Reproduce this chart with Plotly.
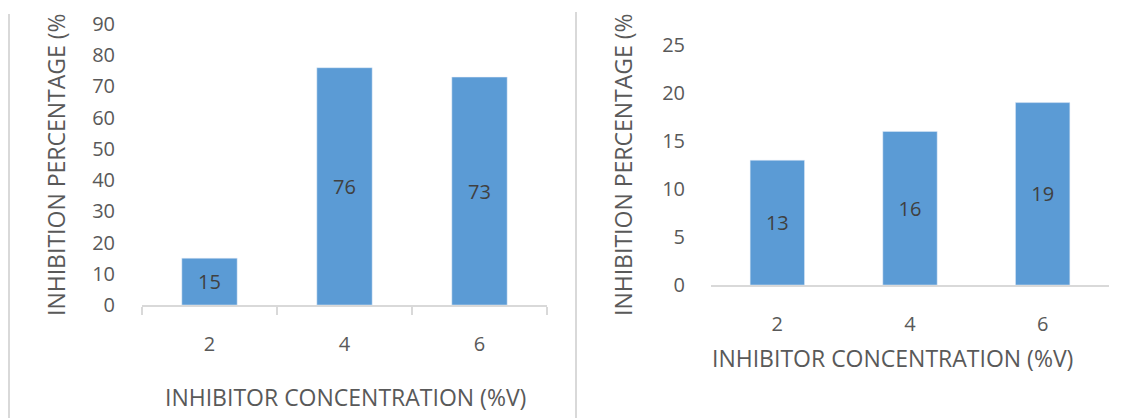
import plotly.graph_objects as go

W, H = 1131, 418

categories = ["2", "4", "6"]
left_values = [15, 76, 73]
right_values = [13, 16, 19]
left_yticks = [0, 10, 20, 30, 40, 50, 60, 70, 80, 90]
right_yticks = [0, 5, 10, 15, 20, 25]
y_title = "INHIBITION PERCENTAGE (%"
x_title = "INHIBITOR CONCENTRATION (%V)"

FONT = "Open Sans"
BAR = "#5b9bd5"
TXT = "#595959"
LBL = "#404040"
GRID = "#d9d9d9"
FS = 20
TFS = 23

def px(x):
    return x / W

def py(y):
    return 1 - y / H

fig = go.Figure()
fig.add_trace(go.Bar(x=categories, y=left_values, text=left_values, textposition="inside",
                     insidetextanchor="middle", marker_color=BAR,
                     textfont=dict(color=LBL, size=FS, family=FONT),
                     xaxis="x", yaxis="y", showlegend=False))
fig.add_trace(go.Bar(x=categories, y=right_values, text=right_values, textposition="inside",
                     insidetextanchor="middle", marker_color=BAR,
                     textfont=dict(color=LBL, size=FS, family=FONT),
                     xaxis="x2", yaxis="y2", showlegend=False))

common_x = dict(type="category", showline=True, linecolor=GRID, linewidth=1.5,
                showgrid=False, zeroline=False, tickfont=dict(color=TXT, size=FS, family=FONT),
                range=[-0.5, 2.5], ticklabelstandoff=20, automargin=False)
common_y = dict(showline=False, showgrid=False, zeroline=False, ticks="outside",
                tickcolor="rgba(0,0,0,0)", tickfont=dict(color=TXT, size=FS, family=FONT),
                automargin=False)

fig.update_layout(
    width=W, height=H, margin=dict(l=0, r=0, t=0, b=0, autoexpand=False),
    paper_bgcolor="white", plot_bgcolor="white", bargap=0.59,
    font=dict(family=FONT, color=TXT, size=FS),
    xaxis=dict(domain=[px(142), px(547)], anchor="y", ticks="outside", ticklen=8,
               tickcolor=GRID, tickwidth=1.5, tickson="boundaries", **common_x),
    yaxis=dict(domain=[py(305), py(24)], anchor="x", range=[0, 90], tickvals=left_yticks,
               ticklen=22, **common_y),
    xaxis2=dict(domain=[px(711), px(1109)], anchor="y2", ticks="", **common_x),
    yaxis2=dict(domain=[py(285), py(45)], anchor="x2", range=[0, 25], tickvals=right_yticks,
                ticklen=21, **common_y),
)

ann = [
    dict(x=px(56), y=py(165), text=y_title, textangle=-90),
    dict(x=px(623), y=py(165), text=y_title, textangle=-90),
    dict(x=px(345), y=py(397), text=x_title),
    dict(x=px(892), y=py(358), text=x_title),
]
for a in ann:
    fig.add_annotation(xref="paper", yref="paper", showarrow=False, xanchor="center",
                       yanchor="middle", font=dict(color=TXT, size=TFS, family=FONT), **a)

for x0, y0 in [(9, 14), (576, 12)]:
    fig.add_shape(type="line", xref="paper", yref="paper", x0=px(x0), x1=px(x0),
                  y0=py(y0), y1=0, line=dict(color=GRID, width=2))

fig.write_html("out.html")
